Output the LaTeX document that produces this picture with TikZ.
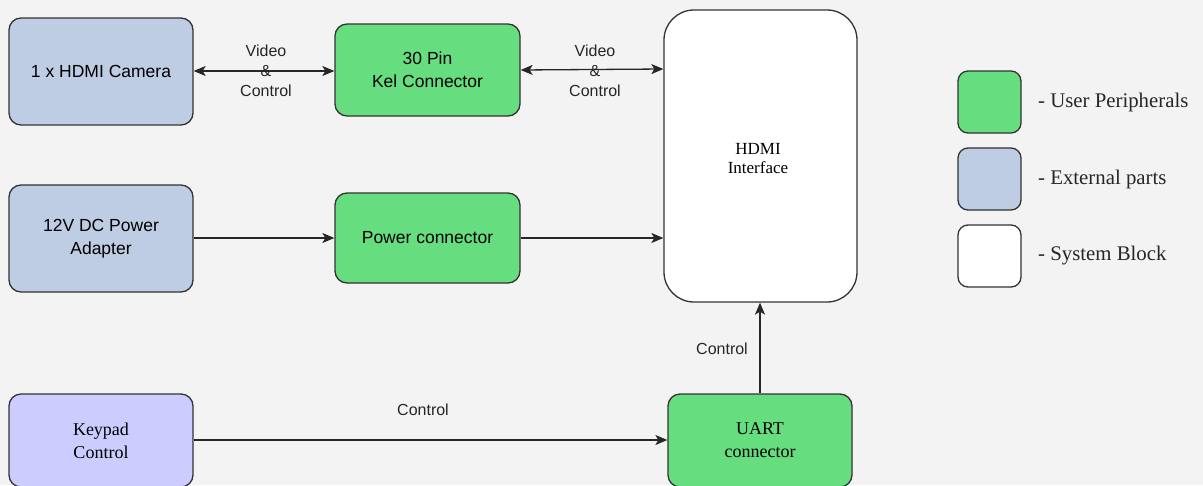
\documentclass[tikz,border=0pt]{standalone}
\usepackage{fontspec}
\setmainfont{Liberation Serif}
\newfontfamily\arialf{Liberation Sans}
\usetikzlibrary{arrows.meta}
\definecolor{bg}{HTML}{F3F3F3}
\definecolor{pgreen}{HTML}{66DD7E}
\definecolor{pblue}{HTML}{BECDE4}
\definecolor{plav}{HTML}{CCCCFF}
\definecolor{edge}{HTML}{333333}
\tikzset{
  blk/.style={draw=edge, line width=1.3pt, rounded corners=12pt, align=center, inner sep=0pt},
  sanstext/.style={font=\arialf\fontsize{17.5}{23}\selectfont},
  seriftext/.style={font=\fontsize{18}{23}\selectfont},
  lbl/.style={font=\arialf\fontsize{16}{20}\selectfont, align=center, inner sep=0pt, text=black!85},
  legtext/.style={font=\fontsize{20.8}{24}\selectfont, anchor=west, inner sep=0pt, text=black!85},
  conn/.style={draw=black!85, line width=1.3pt, -{Stealth[length=12pt,width=10pt,inset=3pt]}},
  bconn/.style={draw=black!85, line width=1.3pt, {Stealth[length=12pt,width=10pt,inset=3pt]}-{Stealth[length=12pt,width=10pt,inset=3pt]}}
}
\begin{document}
\begin{tikzpicture}[x=1pt,y=-1pt]
\useasboundingbox (0,0) rectangle (1203,485);
\clip (0,0) rectangle (1203,485);
\fill[bg] (0,0) rectangle (1203,485);

\node[blk, sanstext, fill=pblue, minimum width=184pt, minimum height=107pt] (cam) at (101,71.5) {1 x HDMI Camera};
\node[blk, sanstext, fill=pgreen, minimum width=185pt, minimum height=92pt] (kel) at (427.5,70) {30 Pin\\Kel Connector};
\node[blk, seriftext, fill=white, rounded corners=30pt, minimum width=193pt, minimum height=292pt] (hdmi) at (760.5,156) {};
\node[font=\fontsize{17}{19}\selectfont, align=center, inner sep=0pt] (hdmitxt) at (758,159) {HDMI\\Interface};
\node[blk, sanstext, fill=pblue, minimum width=184pt, minimum height=107pt] (adapt) at (101,238.5) {12V DC Power\\Adapter};
\node[blk, sanstext, fill=pgreen, minimum width=185pt, minimum height=90pt] (pwr) at (427.5,238) {Power connector};
\node[blk, seriftext, fill=plav, minimum width=184pt, minimum height=93pt] (key) at (101,440.5) {Keypad\\Control};
\node[blk, seriftext, fill=pgreen, minimum width=184pt, minimum height=93pt] (uart) at (760,440.5) {UART\\connector};

% connectors
\draw[bconn] (cam.east |- 0,71) -- (kel.west |- 0,71);
\draw[bconn] (kel.east |- 0,70) -- (hdmi.west |- 0,69);
\draw[conn] (adapt.east |- 0,238) -- (pwr.west |- 0,238);
\draw[conn] (pwr.east |- 0,238) -- (hdmi.west |- 0,238);
\draw[conn] (key.east |- 0,440) -- (uart.west |- 0,440);
\draw[conn] (uart.north) -- (uart.north |- hdmi.south);

% labels
\node[lbl] (l1) at (266,71) {Video\\\&\\Control};
\node[lbl] (l2) at (595,71) {Video\\\&\\Control};
\node[lbl] (l3) at (423,410) {Control};
\node[lbl] (l4) at (722,349) {Control};

% legend
\node[blk, fill=pgreen, rounded corners=10pt, minimum width=63pt, minimum height=62pt] (lg1) at (989.5,102) {};
\node[blk, fill=pblue, rounded corners=10pt, minimum width=63pt, minimum height=62pt] (lg2) at (989.5,179) {};
\node[blk, fill=white, rounded corners=10pt, minimum width=63pt, minimum height=62pt] (lg3) at (989.5,256) {};
\node[legtext] (lt1) at (1038,102) {- User Peripherals};
\node[legtext] (lt2) at (1038,179) {- External parts};
\node[legtext] (lt3) at (1038,256) {- System Block};
\end{tikzpicture}
\end{document}
